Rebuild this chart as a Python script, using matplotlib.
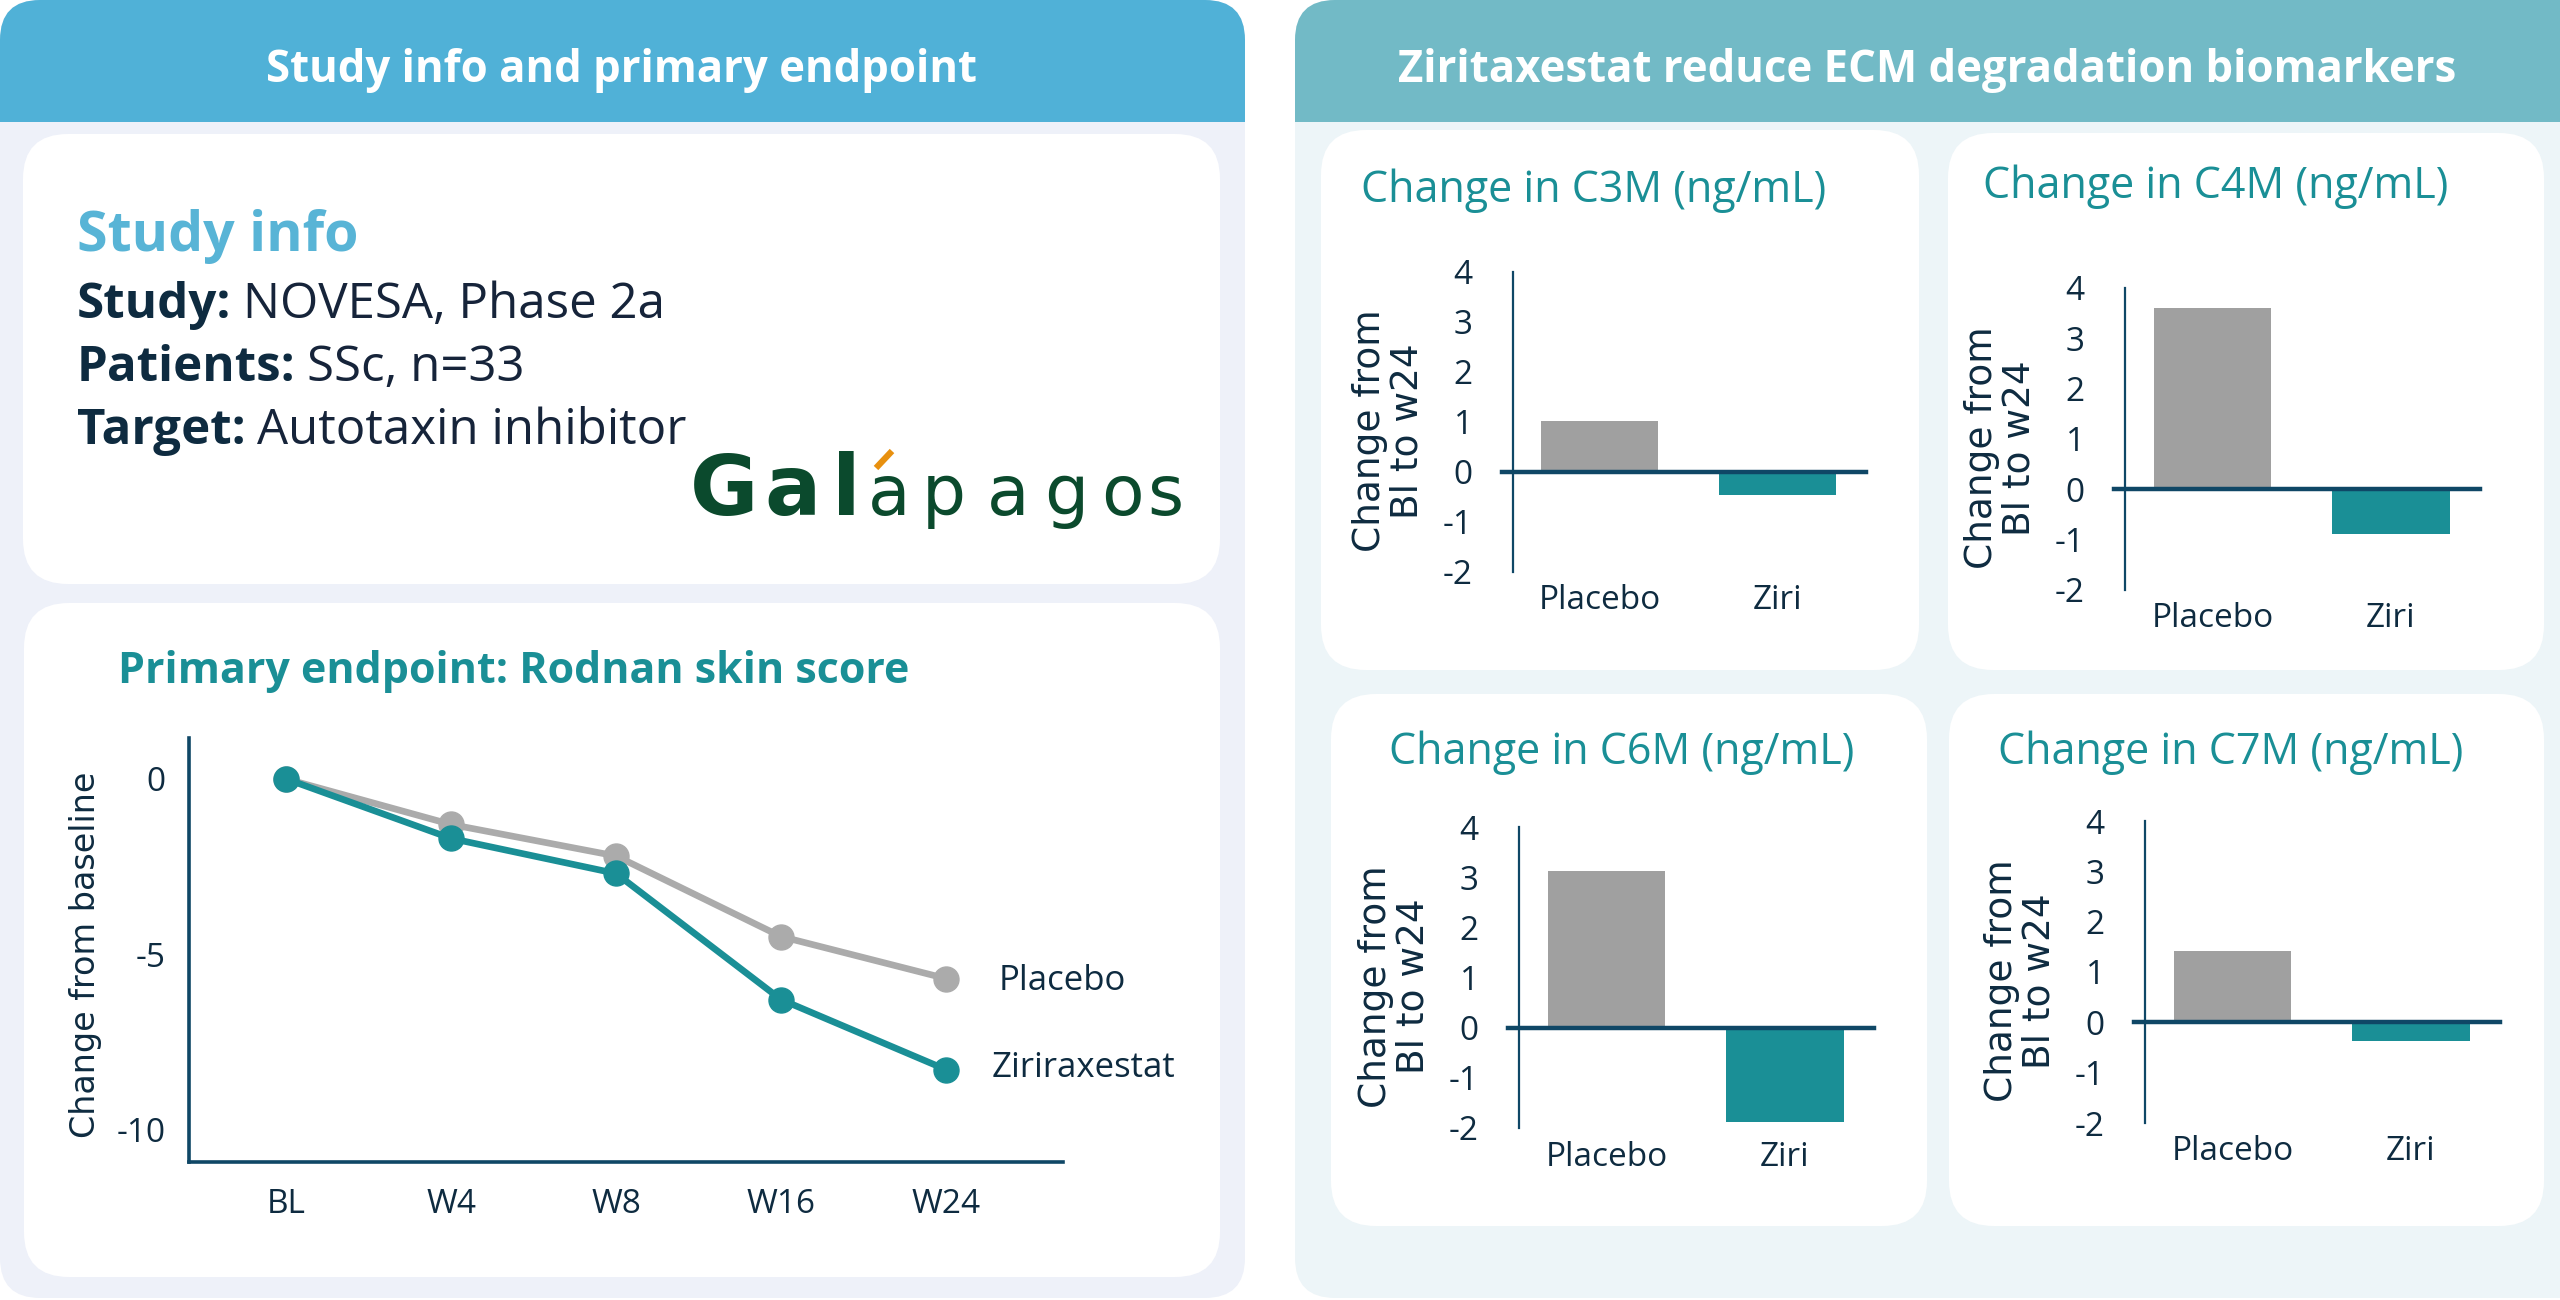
import matplotlib.pyplot as plt
from matplotlib.patches import FancyBboxPatch, Rectangle

# ---- data -------------------------------------------------------------
visits = ["BL", "W4", "W8", "W16", "W24"]
placebo_mrss = [0, -1.3, -2.2, -4.5, -5.7]
ziri_mrss = [0, -1.7, -2.7, -6.3, -8.3]
line_yticks = [0, -5, -10]

bar_groups = ["Placebo", "Ziri"]
biomarkers = ["C3M", "C4M", "C6M", "C7M"]
c3m_change = [1.02, -0.47]
c4m_change = [3.6, -0.89]
c6m_change = [3.12, -1.88]
c7m_change = [1.41, -0.38]
bar_yticks = [-2, -1, 0, 1, 2, 3, 4]

study_lines = [("Study:", "NOVESA, Phase 2a"),
               ("Patients:", "SSc, n=33"),
               ("Target:", "Autotaxin inhibitor")]

# ---- style ------------------------------------------------------------
W, H = 2560, 1300
FONT = "Open Sans"
LABEL_FONT = "DejaVu Sans"
NAVY = "#0E2B40"
AXIS = "#0F4766"
TEAL = "#1A8F96"
GREY = "#A0A0A0"
LINE_GREY = "#ABABAB"

fig = plt.figure(figsize=(W / 100, H / 100), dpi=100)
fig.patch.set_facecolor("white")

# background axes in pixel coordinates
bg = fig.add_axes([0, 0, 1, 1])
bg.set_xlim(0, W)
bg.set_ylim(H, 0)
bg.axis("off")


def rbox(x0, y0, x1, y1, color, r=45, z=0):
    bg.add_patch(FancyBboxPatch((x0, y0), x1 - x0, y1 - y0,
                                boxstyle="round,pad=0,rounding_size=%d" % r,
                                fc=color, ec="none", zorder=z))


# panels + headers
rbox(0, 0, 1245, 1298, "#EEF1F9", r=40)
rbox(0, 0, 1245, 122, "#50B1D7", r=40, z=1)
bg.add_patch(Rectangle((0, 60), 1245, 62, fc="#50B1D7", ec="none", zorder=1))
rbox(1295, 0, 2600, 1298, "#EDF5F8", r=40)
rbox(1295, 0, 2600, 122, "#72BAC6", r=40, z=1)
bg.add_patch(Rectangle((1295, 60), 1305, 62, fc="#72BAC6", ec="none", zorder=1))

bg.text(622, 82, "Study info and primary endpoint", fontsize=31.5, fontweight="bold",
        color="white", ha="center", va="baseline", family=FONT, zorder=3)
bg.text(1927, 82, "Ziritaxestat reduce ECM degradation biomarkers", fontsize=31.5,
        fontweight="bold", color="white", ha="center", va="baseline", family=FONT, zorder=3)

# white cards
cards = [(23, 134, 1220, 584), (24, 603, 1220, 1277),
         (1321, 130, 1919, 670), (1948, 133, 2544, 670),
         (1331, 694, 1927, 1226), (1949, 694, 2544, 1226)]
for c in cards:
    rbox(*c, "white", r=45, z=2)

# ---- study info card --------------------------------------------------
bg.text(77, 251, "Study info", fontsize=40, fontweight="bold", color="#58B4D6",
        va="baseline", family=FONT, zorder=3)
for i, (lab, val) in enumerate(study_lines):
    yb = 318 + i * 63
    t = bg.text(77, yb, lab, fontsize=35.5, fontweight="bold", color=NAVY,
                va="baseline", family=FONT, zorder=3)
    bg.annotate(val, xy=(1, yb), xycoords=(t, "data"), xytext=(8, 0),
                textcoords="offset points", fontsize=35.5, color="#16243A",
                va="baseline", family=FONT, zorder=3)

# Galapagos logo (letter spaced)
LOGO = "#0B4A2D"
logo_letters = ["G", "a", "l", "a", "p", "a", "g", "o", "s"]
logo_x = [690, 764, 832, 868, 922, 987, 1044, 1101, 1147]
for k, (ch, lx) in enumerate(zip(logo_letters, logo_x)):
    bold = k < 3
    bg.text(lx, 515, ch, fontsize=60 if bold else 50,
            fontweight="heavy" if bold else "normal", color=LOGO,
            va="baseline", family="DejaVu Sans", zorder=3)
bg.plot([876, 892], [468, 451], color="#E8900F", lw=4.5, solid_capstyle="butt", zorder=4)

# ---- primary endpoint line chart --------------------------------------
bg.text(118, 683, "Primary endpoint: Rodnan skin score", fontsize=31, fontweight="bold",
        color=TEAL, va="baseline", family=FONT, zorder=3)


def px_axes(left, top, right, bottom):
    a = fig.add_axes([left / W, 1 - bottom / H, (right - left) / W, (bottom - top) / H])
    a.set_facecolor("none")
    return a


ax = px_axes(189, 738, 1063, 1162)
xs = list(range(len(visits)))
ax.plot(xs, placebo_mrss, color=LINE_GREY, lw=4.8, marker="o", ms=18, zorder=3)
ax.plot(xs, ziri_mrss, color=TEAL, lw=4.8, marker="o", ms=18, zorder=4)
ax.set_xlim(-0.59, 4.71)
ax.set_ylim(-10.94, 1.17)
ax.set_xticks(xs)
ax.set_xticklabels(visits)
ax.set_yticks(line_yticks)
ax.set_yticklabels([str(v) for v in line_yticks])
for s in ["top", "right"]:
    ax.spines[s].set_visible(False)
for s in ["left", "bottom"]:
    ax.spines[s].set_color(AXIS)
    ax.spines[s].set_linewidth(2.6)
ax.tick_params(length=0, labelsize=24, labelcolor=NAVY)
ax.tick_params(axis="y", pad=17)
ax.tick_params(axis="x", pad=19)
for lbl in ax.get_xticklabels() + ax.get_yticklabels():
    lbl.set_family(FONT)
ax.set_ylabel("Change from baseline", fontsize=24, color=NAVY, family=LABEL_FONT, va="center")
ax.yaxis.set_label_coords((86 - 189) / (1063 - 189), (1162 - 955) / (1162 - 738))
ax.annotate("Placebo", xy=(xs[-1], placebo_mrss[-1]), xytext=(38, -2),
            textcoords="offset points", va="center", fontsize=25, color=NAVY, family=FONT)
ax.annotate("Ziriraxestat", xy=(xs[-1], ziri_mrss[-1]), xytext=(33, 1),
            textcoords="offset points", va="center", fontsize=25, color=NAVY, family=FONT)

# ---- biomarker bar charts ---------------------------------------------
bar_sets = [c3m_change, c4m_change, c6m_change, c7m_change]
bar_boxes = [(1513, 272, 1866, 572), (2125, 288, 2480, 590),
             (1519, 827, 1874, 1128), (2145, 821, 2500, 1123)]
title_pos = [(1594, 191), (2216, 187), (1622, 753), (2231, 753)]

for name, vals, box, tp in zip(biomarkers, bar_sets, bar_boxes, title_pos):
    bx = px_axes(*box)
    bx.bar([0, 1], vals, width=0.66, color=[GREY, TEAL], zorder=2)
    bx.axhline(0, xmin=-0.03, xmax=1, color=AXIS, lw=3.2, clip_on=False, zorder=3)
    bx.set_xlim(-0.49, 1.5)
    bx.set_ylim(-2, 4)
    bx.set_xticks([0, 1])
    bx.set_xticklabels(bar_groups)
    bx.set_yticks(bar_yticks)
    bx.set_yticklabels([str(v) for v in bar_yticks])
    for s in ["top", "right", "bottom"]:
        bx.spines[s].set_visible(False)
    bx.spines["left"].set_color(AXIS)
    bx.spines["left"].set_linewidth(1.6)
    bx.tick_params(length=0, labelsize=24, labelcolor=NAVY)
    bx.tick_params(axis="y", pad=29)
    bx.tick_params(axis="x", pad=9)
    for lbl in bx.get_xticklabels() + bx.get_yticklabels():
        lbl.set_family(FONT)
    bx.set_ylabel("Change from\nBl to w24", fontsize=27, color=NAVY, family=LABEL_FONT,
                  va="center", linespacing=1.05)
    bx.yaxis.set_label_coords(-124 / (box[2] - box[0]), 0.47)
    bg.text(tp[0], tp[1], "Change in %s (ng/mL)" % name, fontsize=31, color=TEAL,
            ha="center", va="center", family=FONT, zorder=3)

fig.savefig("out.png", dpi=100)
